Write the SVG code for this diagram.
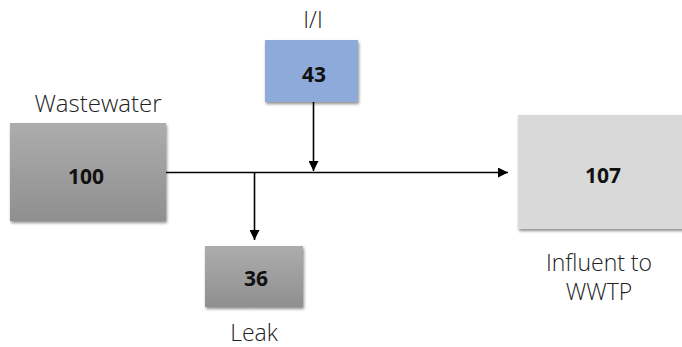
<svg xmlns="http://www.w3.org/2000/svg" width="682" height="347" viewBox="0 0 682 347">
  <defs>
    <linearGradient id="grayGrad" x1="0" y1="0" x2="0" y2="1">
      <stop offset="0" stop-color="#adadad"/>
      <stop offset="1" stop-color="#8f8f8f"/>
    </linearGradient>
    <filter id="shadow" x="-10%" y="-10%" width="125%" height="130%">
      <feGaussianBlur in="SourceAlpha" stdDeviation="1.5"/>
      <feOffset dx="1" dy="2" result="b"/>
      <feComponentTransfer><feFuncA type="linear" slope="0.45"/></feComponentTransfer>
      <feMerge><feMergeNode/><feMergeNode in="SourceGraphic"/></feMerge>
    </filter>
    <marker id="arrow" markerWidth="10" markerHeight="10" refX="10" refY="5" orient="auto" markerUnits="userSpaceOnUse">
      <path d="M0,0 L10,5 L0,10 z" fill="#000"/>
    </marker>
  </defs>
  <style>
    .num { font-family: "Open Sans", "Noto Sans", sans-serif; font-weight: bold; font-size: 21px; fill: #111; text-anchor: middle; }
    .lbl { font-family: "Open Sans", "Noto Sans", sans-serif; font-weight: 300; font-size: 23px; fill: #222; text-anchor: middle; }
    .flow { stroke: #000; stroke-width: 1.6; fill: none; }
  </style>
  <rect width="682" height="347" fill="#fff"/>

  <g id="connectors">
    <line class="flow" x1="166" y1="172.5" x2="508" y2="172.5" marker-end="url(#arrow)"/>
    <line class="flow" x1="313.5" y1="102" x2="313.5" y2="171" marker-end="url(#arrow)"/>
    <line class="flow" x1="254.5" y1="172.5" x2="254.5" y2="240" marker-end="url(#arrow)"/>
  </g>

  <g id="wastewater">
    <rect x="10" y="123" width="156" height="98" fill="url(#grayGrad)" filter="url(#shadow)"/>
    <text class="num" x="86" y="184">100</text>
    <text class="lbl" x="98" y="112" style="font-size:24px">Wastewater</text>
  </g>

  <g id="infiltration">
    <rect x="265" y="40" width="93" height="62" fill="#8eaadb" filter="url(#shadow)"/>
    <text class="num" x="314" y="82">43</text>
    <text class="lbl" x="313" y="28">I/I</text>
  </g>

  <g id="leak">
    <rect x="205" y="246" width="98" height="61" fill="url(#grayGrad)" filter="url(#shadow)"/>
    <text class="num" x="256" y="286">36</text>
    <text class="lbl" x="254" y="341">Leak</text>
  </g>

  <g id="influent">
    <rect x="518" y="115" width="170" height="114" fill="#d9d9d9" filter="url(#shadow)"/>
    <text class="num" x="603" y="183">107</text>
    <text class="lbl" x="599" y="271">Influent to</text>
    <text class="lbl" x="599" y="300">WWTP</text>
  </g>
</svg>
